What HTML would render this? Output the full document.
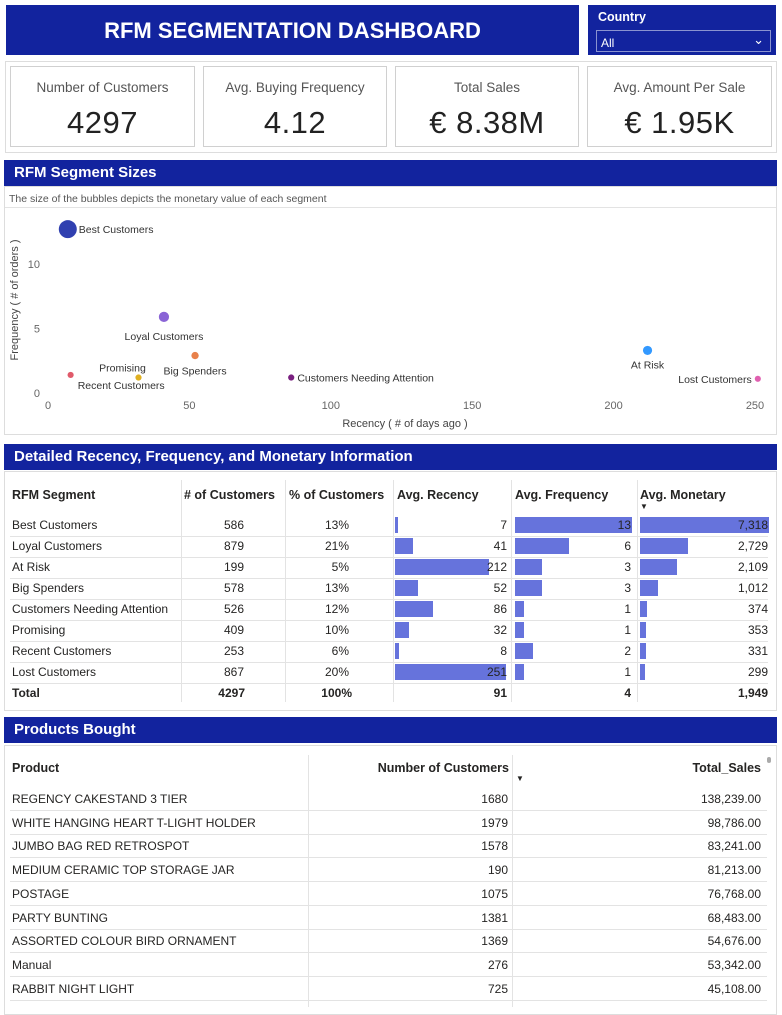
<!DOCTYPE html>
<html><head><meta charset="utf-8">
<style>
*{box-sizing:border-box;margin:0;padding:0}
body{width:782px;height:1007px;background:#fff;font-family:"Liberation Sans",sans-serif;position:relative;overflow:hidden;color:#252423}
.abs{position:absolute}
.blue{background:#12239e;color:#fff}
.hdr{position:absolute;left:4px;width:773px;height:26px;background:#12239e;color:#fff;font-weight:bold;font-size:15px;padding:4px 0 0 10px}
.card{position:absolute;top:66px;height:81px;border:1px solid #d0d0d0;background:#fff;text-align:center}
.card .l{font-size:13.5px;color:#555;margin-top:13px}
.card .v{font-size:31px;color:#222;margin-top:10px;letter-spacing:0.5px}
.panel{position:absolute;left:4px;width:773px;border:1px solid #ddd;background:#fff}
.cell{position:absolute;font-size:12px;white-space:nowrap}
.th{font-weight:bold;font-size:12.5px}
.r{text-align:right}
.vline{position:absolute;width:1px;background:#e3e3e3}
.hline{position:absolute;height:1px;background:#e3e3e3}
.bar{position:absolute;background:#6673dc;height:16px}
</style></head><body>
<div class="abs blue" style="left:6px;top:5px;width:573px;height:50px;font-size:22px;font-weight:bold;text-align:center;line-height:52px">RFM SEGMENTATION DASHBOARD</div>
<div class="abs blue" style="left:588px;top:5px;width:188px;height:50px">
 <div style="position:absolute;left:10px;top:5px;font-size:12.5px;font-weight:bold">Country</div>
 <div style="position:absolute;left:8px;top:25px;width:175px;height:22px;border:1px solid #8a93d0;font-size:12px;padding:5px 0 0 4px">All<span style="position:absolute;right:6px;top:1px;font-size:13px">&#8964;</span></div>
</div>
<div class="abs" style="left:5px;top:61px;width:772px;height:92px;border:1px solid #ddd"></div>
<div class="card" style="left:10px;width:185px"><div class="l">Number of Customers</div><div class="v">4297</div></div>
<div class="card" style="left:203px;width:184px"><div class="l">Avg. Buying Frequency</div><div class="v">4.12</div></div>
<div class="card" style="left:395px;width:184px"><div class="l">Total Sales</div><div class="v">€ 8.38M</div></div>
<div class="card" style="left:587px;width:185px"><div class="l">Avg. Amount Per Sale</div><div class="v">€ 1.95K</div></div>

<div class="hdr" style="top:160px">RFM Segment Sizes</div>
<div class="panel" style="top:186px;height:249px">
 <div style="position:absolute;left:4px;top:6px;font-size:10.5px;color:#555">The size of the bubbles depicts the monetary value of each segment</div>
 <div class="hline" style="left:0;top:20px;width:771px"></div>
</div>
<svg id="bubble" class="abs" style="left:0;top:0" width="782" height="440"></svg>

<div class="hdr" style="top:444px">Detailed Recency, Frequency, and Monetary Information</div>
<div class="panel" style="top:471px;height:240px"></div>
<div id="rfm" class="abs" style="left:0;top:0"></div>

<div class="hdr" style="top:717px">Products Bought</div>
<div class="panel" style="top:745px;height:270px"></div>
<div id="prod" class="abs" style="left:0;top:0"></div>

<script>
const segNames=["Best Customers","Loyal Customers","Big Spenders","Promising","Recent Customers","Customers Needing Attention","At Risk","Lost Customers"];
const segRecency=[7,41,52,32,8,86,212,251];
const segFrequency=[12.7,5.9,2.9,1.2,1.4,1.2,3.3,1.1];
const segMonetary=[7318,2729,1012,353,331,374,2109,299];
const segColors=["#3040b0","#8a64d6","#e8804a","#e0b020","#e05a6a","#7a2080","#3399ff","#e060b0"];
const xTicks=[0,50,100,150,200,250];
const yTicks=[0,5,10];
const NS="http://www.w3.org/2000/svg";
const svg=document.getElementById('bubble');
function sx(v){return 48+v*2.828;}
function sy(v){return 393-v*12.9;}
function sr(m){return 2.8+m/7318*6.2;}
function mk(tag,attrs,txt){const e=document.createElementNS(NS,tag);for(const k in attrs)e.setAttribute(k,attrs[k]);if(txt!==undefined)e.textContent=txt;svg.appendChild(e);return e;}
xTicks.forEach(t=>{const e=mk('text',{x:sx(t),y:409,'text-anchor':'middle','font-size':11,fill:'#666','font-family':'Liberation Sans'},t);

});
yTicks.forEach(t=>{const e=mk('text',{x:40,y:sy(t)+4,'text-anchor':'end','font-size':11,fill:'#666','font-family':'Liberation Sans'},t);

});
let xt=mk('text',{x:405,y:427,'text-anchor':'middle','font-size':11,fill:'#444','font-family':'Liberation Sans'},'Recency ( # of days ago )');


let yt=mk('text',{x:18,y:300,'text-anchor':'middle','font-size':11,fill:'#444','font-family':'Liberation Sans',transform:'rotate(-90 18 300)'},'Frequency ( # of orders )');


const lblOff=[[2,4,'start'],[0,23,'middle'],[0,19,'middle'],[-16,-6,'middle'],[4,14,'start'],[3,4,'start'],[0,18,'middle'],[-3,4,'end']];
segNames.forEach((n,i)=>{
 const cx=sx(segRecency[i]),cy=sy(segFrequency[i]),r=sr(segMonetary[i]);
 const c=mk('circle',{cx:cx,cy:cy,r:r,fill:segColors[i]});
 
 
 const o=lblOff[i];
 let dx=o[0]; if(o[2]=='start')dx+=r; if(o[2]=='end')dx-=r;
 const l=mk('text',{x:cx+dx,y:cy+o[1],'text-anchor':o[2],'font-size':10.5,fill:'#333','font-family':'Liberation Sans'},n);
 
 
});

// RFM table
const tSeg=["Best Customers","Loyal Customers","At Risk","Big Spenders","Customers Needing Attention","Promising","Recent Customers","Lost Customers"];
const tCount=[586,879,199,578,526,409,253,867];
const tPct=["13%","21%","5%","13%","12%","10%","6%","20%"];
const tRec=[7,41,212,52,86,32,8,251];
const tFreq=[13,6,3,3,1,1,2,1];
const tMon=[7318,2729,2109,1012,374,353,331,299];
const tTotal=["4297","100%","91","4","1,949"];
const R=document.getElementById('rfm');
function add(par,html,style,name,cls){const d=document.createElement('div');d.className=cls||'cell';d.style.cssText=style;d.innerHTML=html;


par.appendChild(d);return d;}
const fmt=v=>v.toLocaleString('en-US');
add(R,'RFM Segment','left:12px;top:488px','col-rfm-segment','cell th');
add(R,'# of Customers','left:184px;top:488px','col-num-customers','cell th');
add(R,'% of Customers','left:289px;top:488px','col-pct-customers','cell th');
add(R,'Avg. Recency','left:397px;top:488px','col-avg-recency','cell th');
add(R,'Avg. Frequency','left:515px;top:488px','col-avg-frequency','cell th');
add(R,'Avg. Monetary','left:640px;top:488px','col-avg-monetary','cell th');
add(R,'▼','left:640px;top:502px;font-size:8px','sort-indicator','cell');
[[181,480,222],[285,480,222],[393,480,222],[511,480,222],[637,480,222]].forEach(a=>add(R,'','left:'+a[0]+'px;top:'+a[1]+'px;height:'+a[2]+'px','col-divider','vline'));
const rowY=i=>516+i*21;
tSeg.forEach((s,i)=>{
 const y=rowY(i);
 add(R,'','left:395px;top:'+(y+1)+'px;width:'+(tRec[i]/251*111)+'px','bar-recency','bar');
 add(R,'','left:515px;top:'+(y+1)+'px;width:'+(tFreq[i]/13*117)+'px','bar-frequency','bar');
 add(R,'','left:640px;top:'+(y+1)+'px;width:'+(tMon[i]/7318*129)+'px','bar-monetary','bar');
 add(R,s,'left:12px;top:'+(y+2)+'px','segment-name');
 add(R,tCount[i],'left:181px;width:63px;top:'+(y+2)+'px','num-customers','cell r');
 add(R,tPct[i],'left:285px;width:64px;top:'+(y+2)+'px','pct-customers','cell r');
 add(R,tRec[i],'left:393px;width:114px;top:'+(y+2)+'px','avg-recency','cell r');
 add(R,tFreq[i],'left:511px;width:120px;top:'+(y+2)+'px','avg-frequency','cell r');
 add(R,fmt(tMon[i]),'left:637px;width:131px;top:'+(y+2)+'px','avg-monetary','cell r');
 add(R,'','left:10px;top:'+(y+20)+'px;width:758px','row-divider','hline');
});
const ty=rowY(8);
add(R,'Total','left:12px;top:'+(ty+2)+'px;font-weight:bold','total-label');
add(R,tTotal[0],'left:181px;width:64px;top:'+(ty+2)+'px;font-weight:bold','total-customers','cell r');
add(R,tTotal[1],'left:285px;width:67px;top:'+(ty+2)+'px;font-weight:bold','total-pct','cell r');
add(R,tTotal[2],'left:393px;width:114px;top:'+(ty+2)+'px;font-weight:bold','total-recency','cell r');
add(R,tTotal[3],'left:511px;width:120px;top:'+(ty+2)+'px;font-weight:bold','total-frequency','cell r');
add(R,tTotal[4],'left:637px;width:131px;top:'+(ty+2)+'px;font-weight:bold','total-monetary','cell r');

// Products table
const pNames=["REGENCY CAKESTAND 3 TIER","WHITE HANGING HEART T-LIGHT HOLDER","JUMBO BAG RED RETROSPOT","MEDIUM CERAMIC TOP STORAGE JAR","POSTAGE","PARTY BUNTING","ASSORTED COLOUR BIRD ORNAMENT","Manual","RABBIT NIGHT LIGHT"];
const pCust=[1680,1979,1578,190,1075,1381,1369,276,725];
const pSales=[138239,98786,83241,81213,76768,68483,54676,53342,45108];
const P=document.getElementById('prod');
add(P,'Product','left:12px;top:761px','col-product','cell th');
add(P,'Number of Customers','left:308px;width:201px;top:761px','col-number-customers','cell th r');
add(P,'▼','left:516px;top:774px;font-size:8px','sort-indicator','cell');
add(P,'Total_Sales','left:513px;width:248px;top:761px','col-total-sales','cell th r');
add(P,'','left:308px;top:755px;height:252px','col-divider','vline');
add(P,'','left:512px;top:755px;height:252px','col-divider','vline');
add(P,'','left:767px;top:757px;width:4px;height:6px;background:#aaa;border-radius:2px','scrollbar','cell');
pNames.forEach((n,i)=>{
 const y=792+i*23.7;
 add(P,n,'left:12px;top:'+y+'px','product-name');
 add(P,pCust[i],'left:308px;width:200px;top:'+y+'px','product-customers','cell r');
 add(P,pSales[i].toLocaleString('en-US',{minimumFractionDigits:2}),'left:513px;width:248px;top:'+y+'px','product-sales','cell r');
 add(P,'','left:10px;top:'+(y+18)+'px;width:757px','row-divider','hline');
});
</script>
</body></html>
